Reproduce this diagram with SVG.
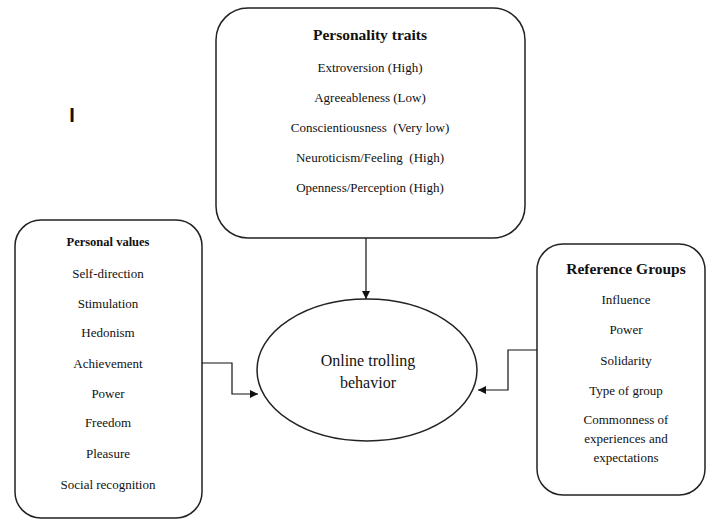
<svg xmlns="http://www.w3.org/2000/svg" width="706" height="519" viewBox="0 0 706 519">
<style>
.box{fill:#fff;stroke:#222;stroke-width:1.5}
.t{font-size:13px;fill:#111;text-anchor:middle;white-space:pre}
.h{font-weight:bold;font-size:15.5px}
.c{fill:none;stroke:#111;stroke-width:1.2}
</style>
<defs>
<marker id="ah" viewBox="0 0 10 10" refX="10" refY="5" markerWidth="8" markerHeight="8" markerUnits="userSpaceOnUse" orient="auto">
<path d="M0,0 L10,5 L0,10 z" fill="#111"/>
</marker>
</defs>
<rect width="706" height="519" fill="#fff"/>
<text x="72" y="122" font-family="Liberation Sans, Arial, sans-serif" font-size="20" font-weight="bold" fill="#111" text-anchor="middle">I</text>
<g font-family="Liberation Serif, Times New Roman, DejaVu Serif, serif">
<g id="personality">
<rect class="box" x="216" y="8" width="309" height="230" rx="32"/>
<text class="t h" x="370" y="40">Personality traits</text>
<text class="t" x="370" y="72">Extroversion (High)</text>
<text class="t" x="370" y="102">Agreeableness (Low)</text>
<text class="t" x="370" y="132" xml:space="preserve">Conscientiousness  (Very low)</text>
<text class="t" x="370" y="162" xml:space="preserve">Neuroticism/Feeling  (High)</text>
<text class="t" x="370" y="192">Openness/Perception (High)</text>
</g>
<g id="values">
<rect class="box" x="15" y="220" width="187" height="298" rx="26"/>
<text class="t" x="108" y="246" style="font-weight:bold;font-size:12.5px">Personal values</text>
<text class="t" x="108" y="278">Self-direction</text>
<text class="t" x="108" y="308">Stimulation</text>
<text class="t" x="108" y="337">Hedonism</text>
<text class="t" x="108" y="368">Achievement</text>
<text class="t" x="108" y="398">Power</text>
<text class="t" x="108" y="427">Freedom</text>
<text class="t" x="108" y="458">Pleasure</text>
<text class="t" x="108" y="489">Social recognition</text>
</g>
<g id="groups">
<rect class="box" x="537" y="244" width="168" height="251" rx="26"/>
<text class="t h" x="626" y="274">Reference Groups</text>
<text class="t" x="626" y="304">Influence</text>
<text class="t" x="626" y="334">Power</text>
<text class="t" x="626" y="365">Solidarity</text>
<text class="t" x="626" y="395">Type of group</text>
<text class="t" x="626" y="424">Commonness of</text>
<text class="t" x="626" y="443">experiences and</text>
<text class="t" x="626" y="462">expectations</text>
</g>
<g id="behavior">
<ellipse class="box" cx="367" cy="370" rx="110" ry="71"/>
<text class="t" x="368" y="366" style="font-size:16px">Online trolling</text>
<text class="t" x="368" y="388" style="font-size:16px">behavior</text>
</g>
</g>
<g id="connectors">
<path class="c" d="M366,238 V299" marker-end="url(#ah)"/>
<path class="c" d="M202,363 H232 V394 H258" marker-end="url(#ah)"/>
<path class="c" d="M537,350 H508 V390 H478" marker-end="url(#ah)"/>
</g>
</svg>
